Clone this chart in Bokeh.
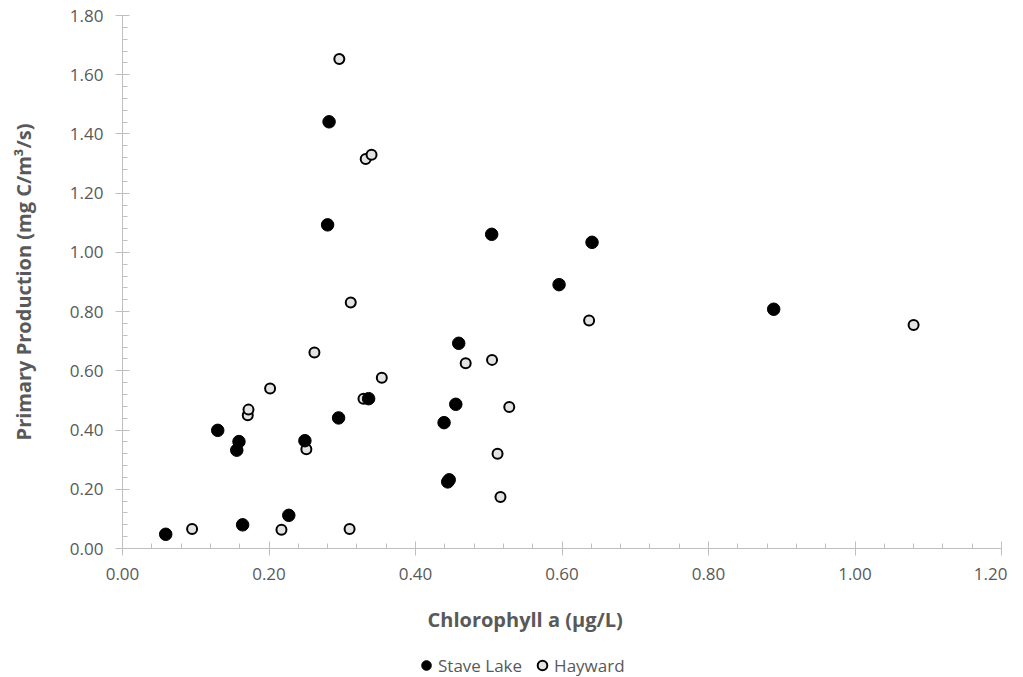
from bokeh.plotting import figure
from bokeh.layouts import column
from bokeh.models import Range1d, FixedTicker, NumeralTickFormatter, Legend, LegendItem, Title
from bokeh.embed import file_html
from bokeh.resources import INLINE

# Data
stave_chl = [0.059, 0.130, 0.159, 0.156, 0.164, 0.227, 0.249, 0.295, 0.336, 0.439,
             0.282, 0.280, 0.444, 0.446, 0.455, 0.459, 0.504, 0.596, 0.641, 0.889]
stave_pp = [0.048, 0.399, 0.361, 0.332, 0.080, 0.112, 0.364, 0.441, 0.506, 0.425,
            1.441, 1.093, 0.225, 0.232, 0.487, 0.693, 1.061, 0.891, 1.034, 0.808]

hay_chl = [0.296, 0.332, 0.340, 0.095, 0.217, 0.310, 0.251, 0.171, 0.172, 0.2015,
           0.262, 0.3116, 0.354, 0.329, 0.637, 0.4685, 0.5045, 0.528, 0.512, 0.516, 1.080]
hay_pp = [1.653, 1.315, 1.330, 0.066, 0.063, 0.066, 0.335, 0.450, 0.469, 0.540,
          0.662, 0.831, 0.577, 0.506, 0.770, 0.626, 0.637, 0.478, 0.320, 0.174, 0.755]

series_names = ["Stave Lake", "Hayward"]
x_title = "Chlorophyll a (µg/L)"
y_title = "Primary Production (mg C/m³/s)"

x_ticks = [0.0, 0.2, 0.4, 0.6, 0.8, 1.0, 1.2]
y_ticks = [0.0, 0.2, 0.4, 0.6, 0.8, 1.0, 1.2, 1.4, 1.6, 1.8]
x_minor = [round(i * 0.04, 2) for i in range(31)]
y_minor = [round(i * 0.04, 2) for i in range(46)]

GRAY = "#595959"
AX = "#BFBFBF"
FONT = "Open Sans"
HAY_FILL = "#E3E3E3"

p = figure(width=1007, height=653, output_backend="svg", toolbar_location=None,
           x_range=Range1d(0, 1.2), y_range=Range1d(0, 1.8),
           min_border_left=122, min_border_right=6, min_border_top=15, min_border_bottom=105)
p.outline_line_color = None
p.xgrid.visible = False
p.ygrid.visible = False

p.scatter(hay_chl, hay_pp, size=10, fill_color=HAY_FILL, line_color="black", line_width=2)
p.scatter(stave_chl, stave_pp, size=12.5, fill_color="black", line_color="black")

for ax, ticks, minor in ((p.xaxis[0], x_ticks, x_minor), (p.yaxis[0], y_ticks, y_minor)):
    ax.ticker = FixedTicker(ticks=ticks, minor_ticks=minor)
    ax.formatter = NumeralTickFormatter(format="0.00")
    ax.axis_line_color = AX
    ax.major_tick_line_color = AX
    ax.minor_tick_line_color = AX
    ax.major_tick_in = 7
    ax.major_tick_out = 7
    ax.minor_tick_in = 5
    ax.minor_tick_out = 0
    ax.major_label_text_color = GRAY
    ax.major_label_text_font = FONT
    ax.major_label_text_font_size = "17px"
    ax.major_label_standoff = 12
    ax.axis_label_text_color = GRAY
    ax.axis_label_text_font = FONT
    ax.axis_label_text_font_style = "bold"
    ax.axis_label_text_font_size = "20px"

p.yaxis.axis_label = y_title
p.yaxis.axis_label_standoff = 30

# x-axis title, centred on the whole chart rather than on the plot frame
p.add_layout(Title(text=x_title, align="left", offset=305, standoff=42,
                   text_font=FONT, text_font_style="bold", text_font_size="20px",
                   text_color=GRAY), "below")

# Legend strip below the chart (frames are aligned by the column layout)
nan = float("nan")
lg = figure(width=1007, height=24, output_backend="svg", toolbar_location=None,
            x_axis_type=None, y_axis_type=None,
            min_border_left=122, min_border_right=6, min_border_top=0, min_border_bottom=0)
lg.outline_line_color = None
lg.xgrid.visible = False
lg.ygrid.visible = False
ls = lg.scatter([nan], [nan], fill_color="black", line_color="black")
lh = lg.scatter([nan], [nan], fill_color=HAY_FILL, line_color="black", line_width=2)
legend = Legend(items=[LegendItem(label=series_names[0], renderers=[ls]),
                       LegendItem(label=series_names[1], renderers=[lh])],
                orientation="horizontal", location=(292, 0),
                glyph_width=24, glyph_height=24, label_standoff=0, spacing=8,
                padding=0, margin=0,
                label_text_font=FONT, label_text_font_size="17px", label_text_color=GRAY,
                border_line_color=None, background_fill_alpha=0)
lg.add_layout(legend, "center")

layout = column(p, lg, spacing=0)
open("out.html", "w").write(file_html(layout, INLINE))
